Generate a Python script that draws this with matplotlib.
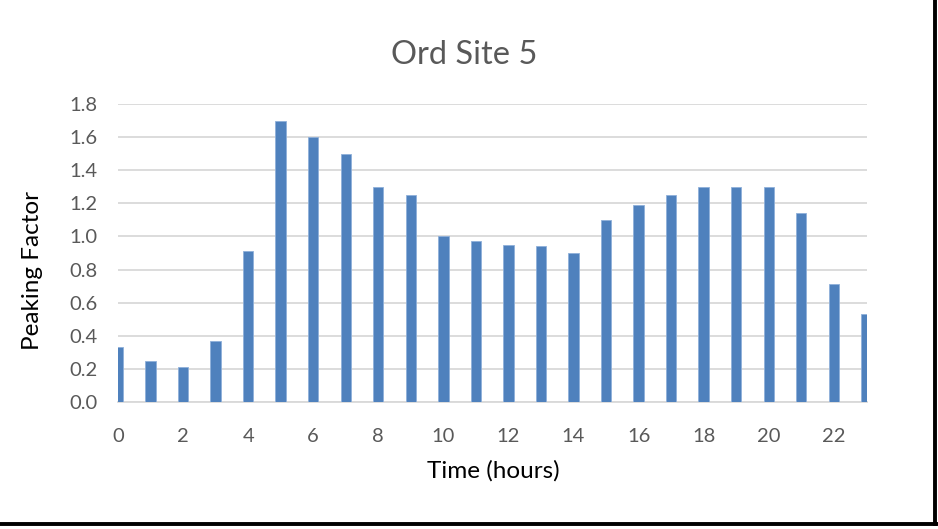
import matplotlib.pyplot as plt
import numpy as np
from matplotlib.lines import Line2D

hours = list(range(24))
peaking = [0.33, 0.25, 0.21, 0.37, 0.91, 1.70, 1.60, 1.50, 1.30, 1.25,
           1.00, 0.97, 0.95, 0.94, 0.90, 1.10, 1.19, 1.25, 1.30, 1.30,
           1.30, 1.14, 0.71, 0.53]
yticks = [0.0, 0.2, 0.4, 0.6, 0.8, 1.0, 1.2, 1.4, 1.6, 1.8]
xticks = list(range(0, 24, 2))

plt.rcParams['font.family'] = ['Lato', 'DejaVu Sans']

fig = plt.figure(figsize=(9.38, 5.29), dpi=100)
ax = fig.add_axes([0.1258, 0.2401, 0.9243 - 0.1258, 0.8034 - 0.2401])

ax.bar(hours, peaking, width=0.32, color='#4F81BD', edgecolor='#8FB0DA',
       linewidth=0.6, zorder=3)

ax.set_xlim(0, 23.02)
ax.set_ylim(0, 1.8)
ax.set_yticks(yticks)
ax.set_yticklabels(['%.1f' % v for v in yticks])
ax.set_xticks(xticks)
ax.tick_params(length=0, labelsize=14.5, labelcolor='#595959')
ax.tick_params(axis='y', pad=15)
ax.tick_params(axis='x', pad=19)
ax.grid(axis='y', color='#D9D9D9', linewidth=1.3, zorder=0)
for s in ['top', 'left', 'right']:
    ax.spines[s].set_visible(False)
ax.spines['bottom'].set_color('#D9D9D9')
ax.spines['bottom'].set_linewidth(1.3)

# axis titles placed like the Excel original
fig.text(493 / 938, 1 - 471 / 529, 'Time (hours)', fontsize=17.5,
         color='#000000', ha='center', va='center')
fig.text(33 / 938, 1 - 270 / 529, 'Peaking Factor', fontsize=17.5,
         color='#000000', ha='center', va='center', rotation=90)
fig.text(464 / 938, 1 - 55 / 529, 'Ord Site 5', fontsize=23.5, color='#595959',
         ha='center', va='center')

# black frame edges on the right and bottom
fig.add_artist(Line2D([0.9965, 0.9965], [0.01, 1.0], transform=fig.transFigure,
                      color='black', linewidth=2.8))
fig.add_artist(Line2D([0.0, 0.9985], [0.0095, 0.0095], transform=fig.transFigure,
                      color='black', linewidth=2.8))

fig.savefig('out.png', dpi=100)
